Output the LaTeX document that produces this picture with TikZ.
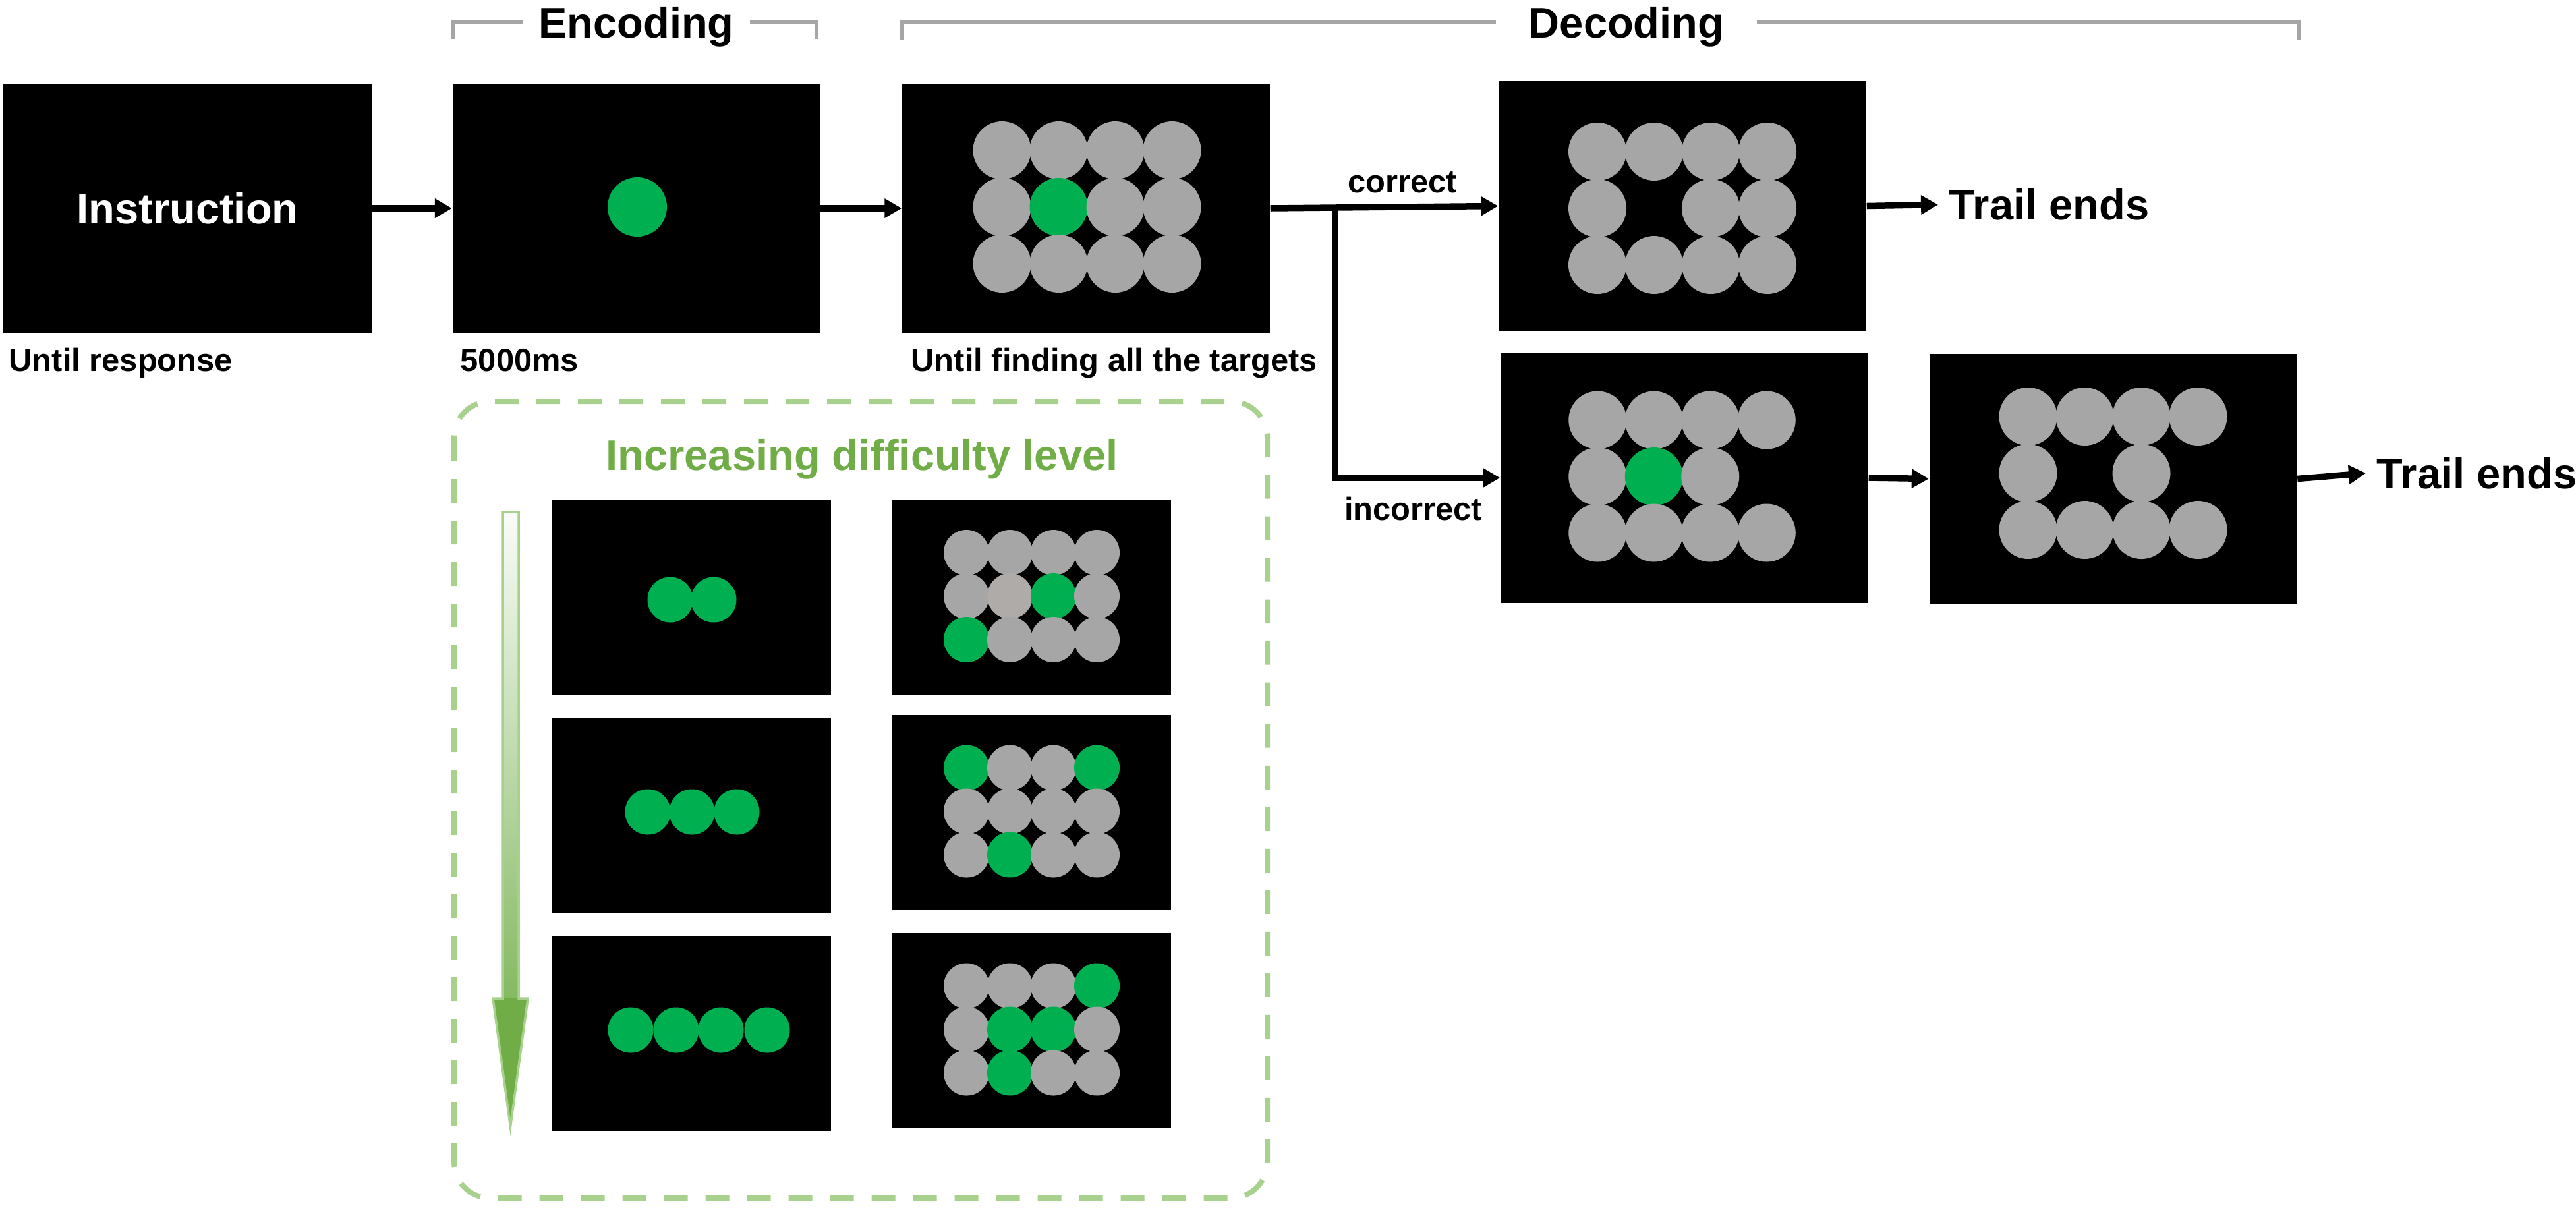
\documentclass[tikz,border=0pt]{standalone}
\usepackage{fontspec}
\setmainfont{Liberation Sans}
\usetikzlibrary{arrows.meta}
\definecolor{gy}{HTML}{A6A6A6}
\definecolor{gl}{HTML}{AEABA9}
\definecolor{gn}{HTML}{00B050}
\definecolor{lgreen}{HTML}{A9D18E}
\definecolor{dgreen}{HTML}{70AD47}
\newcommand{\txtbig}{\bfseries\fontsize{18.5}{22}\selectfont}
\newcommand{\txtsmall}{\bfseries\fontsize{13.9}{16}\selectfont}
% grid of 4x3 dots: centre x, centre y, step, radius, rows of colours
\newcommand{\dotgrid}[5]{%
  \foreach \row [count=\j from 0] in {#5} {
    \foreach \k [count=\i from 0] in \row
      \path[fill=\k] ({#1+(\i-1.5)*#3},{#2-(\j-1)*#3}) circle (#4);
  }}
\begin{document}
\begin{tikzpicture}[x=1cm,y=1cm,>={Triangle[length=0.26cm,width=0.28cm]},
  screen/.style={fill=black,minimum width=5.58cm,minimum height=3.79cm,inner sep=0,text=white,font=\txtbig},
  mini/.style={fill=black,minimum width=4.23cm,minimum height=2.96cm,inner sep=0},
  lab/.style={inner sep=0,font=\txtsmall},
  flow/.style={->,line width=0.095cm},
  brk/.style={gy,line width=0.06cm}]
\useasboundingbox (0,0) rectangle (39.09,-18.32);

% main screens
\node[screen] (b1) at (2.845,-3.16) {Instruction};
\node[screen] (b2) at (9.655,-3.16) {};
\node[screen] (b3) at (16.48,-3.16) {};
\node[screen] (b4) at (25.53,-3.125) {};
\node[screen] (b5) at (25.56,-7.25) {};
\node[screen] (b6) at (32.065,-7.265) {};

\fill[gn] (9.67,-3.14) circle (0.45);
\dotgrid{16.495}{-3.14}{0.86}{0.44}{{gy,gy,gy,gy},{gy,gn,gy,gy},{gy,gy,gy,gy}}
\dotgrid{25.53}{-3.16}{0.86}{0.44}{{gy,gy,gy,gy},{gy,none,gy,gy},{gy,gy,gy,gy}}
\dotgrid{25.525}{-7.23}{0.855}{0.44}{{gy,gy,gy,gy},{gy,gn,gy,none},{gy,gy,gy,gy}}
\dotgrid{32.065}{-7.18}{0.86}{0.44}{{gy,gy,gy,gy},{gy,none,gy,none},{gy,gy,gy,gy}}

% phase brackets
\node[lab,font=\txtbig,anchor=base] (enc) at (9.655,-0.57) {Encoding};
\draw[brk] (6.88,-0.59) |- (7.93,-0.33);
\draw[brk] (11.38,-0.33) -| (12.39,-0.59);
\node[lab,font=\txtbig,anchor=base] (dec) at (24.68,-0.57) {Decoding};
\draw[brk] (13.69,-0.60) |- (22.70,-0.335);
\draw[brk] (26.66,-0.335) -| (34.89,-0.61);

% timing labels
\node[lab,anchor=base west] (t1) at (0.13,-5.63) {Until response};
\node[lab,anchor=base west] (t2) at (6.98,-5.63) {5000ms};
\node[lab,anchor=base west] (t3) at (13.82,-5.63) {Until finding all the targets};
\node[lab,anchor=base] (ok) at (21.28,-2.92) {correct};
\node[lab,anchor=base] (nok) at (21.445,-7.89) {incorrect};
\node[lab,font=\txtbig,anchor=west,inner xsep=0.16cm] (end1) at (29.41,-3.105) {Trail ends};
\node[lab,font=\txtbig,anchor=west,inner xsep=0.16cm] (end2) at (35.90,-7.18) {Trail ends};

% flow
\coordinate (split) at (20.26,-3.16);
\draw[flow] (b1.east) -- (b2.west);
\draw[flow] (b2.east) -- (b3.west);
\draw[flow] (b3.east) -- (b4.west);
\draw[flow] (split) |- (b5.west);
\draw[flow] (b4.east) -- (end1.west);
\draw[flow] (b5.east) -- (b6.west);
\draw[flow] (b6.east) -- (end2.west);

% difficulty panel
\draw[lgreen,line width=0.08cm,dash pattern=on 0.36cm off 0.27cm,rounded corners=0.55cm]
  (6.89,-6.09) rectangle (19.23,-18.18);
\node[lab,font=\txtbig,text=dgreen,anchor=base] (lvl) at (13.08,-7.13) {Increasing difficulty level};

\node[mini] (s1) at (10.495,-9.07) {};
\node[mini] (s2) at (10.495,-12.37) {};
\node[mini] (s3) at (10.495,-15.68) {};
\node[mini] (r1) at (15.655,-9.055) {};
\node[mini] (r2) at (15.655,-12.325) {};
\node[mini] (r3) at (15.655,-15.64) {};

\foreach \x in {10.17,10.83} \fill[gn] (\x,-9.10) circle (0.345);
\foreach \x in {9.83,10.50,11.18} \fill[gn] (\x,-12.32) circle (0.345);
\foreach \x in {9.57,10.26,10.94,11.64} \fill[gn] (\x,-15.63) circle (0.345);
\dotgrid{15.655}{-9.045}{0.66}{0.345}{{gy,gy,gy,gy},{gy,gl,gn,gy},{gn,gy,gy,gy}}
\dotgrid{15.655}{-12.31}{0.66}{0.345}{{gn,gy,gy,gn},{gy,gy,gy,gy},{gy,gn,gy,gy}}
\dotgrid{15.655}{-15.62}{0.66}{0.345}{{gy,gy,gy,gn},{gy,gn,gn,gy},{gy,gn,gy,gy}}

% gradient arrow
\shade[top color=dgreen!4,bottom color=dgreen!85] (7.63,-7.77) rectangle (7.87,-15.15);
\fill[dgreen] (7.48,-15.15) -- (8.01,-15.15) -- (7.745,-17.10) -- cycle;
\draw[lgreen,line width=0.035cm] (7.63,-7.77) -- (7.87,-7.77) -- (7.87,-15.15) -- (8.01,-15.15)
  -- (7.745,-17.10) -- (7.48,-15.15) -- (7.63,-15.15) -- cycle;
\end{tikzpicture}
\end{document}
